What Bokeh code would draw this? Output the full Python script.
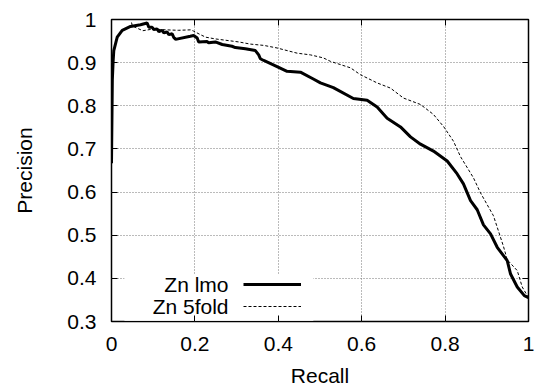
from bokeh.plotting import figure
from bokeh.models import (Range1d, FixedTicker, LinearAxis, Legend, LegendItem,
                          Label, BoxAnnotation, CustomJSTickFormatter)
from bokeh.embed import file_html
from bokeh.resources import INLINE

# ---- data ----
recall_lmo = [0, 0.002, 0.004, 0.0055, 0.0137, 0.0257, 0.0456, 0.0695, 0.0855, 0.0895,
              0.0975, 0.101, 0.1095, 0.1135, 0.1215, 0.1255, 0.1335, 0.1375, 0.1455, 0.149,
              0.1535, 0.189, 0.197, 0.2055, 0.209, 0.2295, 0.233, 0.249, 0.2655, 0.289,
              0.297, 0.321, 0.345, 0.353, 0.357, 0.365, 0.397, 0.421, 0.453, 0.484,
              0.501, 0.532, 0.58, 0.613, 0.637, 0.661, 0.693, 0.717, 0.741, 0.772,
              0.805, 0.829, 0.844, 0.861, 0.877, 0.892, 0.909, 0.925, 0.949, 0.957,
              0.973, 0.99, 1.0]
precision_lmo = [0.667, 0.86, 0.905, 0.928, 0.959, 0.975, 0.984, 0.988, 0.992, 0.982,
                 0.982, 0.977, 0.978, 0.972, 0.975, 0.969, 0.971, 0.965, 0.967, 0.959,
                 0.954, 0.961, 0.963, 0.957, 0.948, 0.949, 0.946, 0.948, 0.942, 0.938,
                 0.935, 0.932, 0.928, 0.918, 0.909, 0.905, 0.891, 0.88, 0.878, 0.862,
                 0.853, 0.842, 0.817, 0.813, 0.797, 0.771, 0.751, 0.728, 0.711, 0.695,
                 0.672, 0.642, 0.619, 0.58, 0.559, 0.524, 0.503, 0.472, 0.441, 0.41,
                 0.38, 0.36, 0.355]

recall_5fold = [0.048, 0.05, 0.075, 0.1, 0.13, 0.16, 0.19, 0.197, 0.213, 0.226,
                0.249, 0.273, 0.305, 0.333, 0.365, 0.397, 0.445, 0.477, 0.508, 0.525,
                0.573, 0.597, 0.637, 0.669, 0.7, 0.741, 0.772, 0.797, 0.82, 0.837,
                0.868, 0.885, 0.916, 0.94, 0.949, 0.973, 0.985, 1.0]
precision_5fold = [0.993, 0.985, 0.974, 0.978, 0.976, 0.975, 0.976, 0.973, 0.965, 0.959,
                   0.955, 0.952, 0.948, 0.943, 0.94, 0.934, 0.922, 0.918, 0.911, 0.903,
                   0.888, 0.872, 0.853, 0.841, 0.818, 0.803, 0.78, 0.751, 0.718, 0.682,
                   0.633, 0.598, 0.545, 0.474, 0.443, 0.418, 0.38, 0.355]

series_names = ["Zn lmo", "Zn 5fold"]
x_ticks = [0, 0.2, 0.4, 0.6, 0.8, 1.0]
x_tick_labels = ["0", "0.2", "0.4", "0.6", "0.8", "1"]
y_ticks = [0.3, 0.4, 0.5, 0.6, 0.7, 0.8, 0.9, 1.0]
y_tick_labels = ["0.3", "0.4", "0.5", "0.6", "0.7", "0.8", "0.9", "1"]

FONT = "Liberation Sans"
FS = "21px"

p = figure(width=536, height=389, output_backend="svg", toolbar_location=None,
           x_range=Range1d(0, 1), y_range=Range1d(0.3, 1),
           min_border_left=111, min_border_right=8, min_border_top=19,
           min_border_bottom=67, x_axis_label="Recall", y_axis_label="Precision")
p.background_fill_color = "white"
p.border_fill_color = "white"
p.outline_line_color = "black"
p.outline_line_width = 1.5

for ax, ticks, labels in ((p.xaxis[0], x_ticks, x_tick_labels), (p.yaxis[0], y_ticks, y_tick_labels)):
    ax.ticker = FixedTicker(ticks=ticks)
    ax.major_label_overrides = {t: l for t, l in zip(ticks, labels)}
    ax.major_tick_in = 6
    ax.major_tick_out = 0
    ax.minor_tick_line_color = None
    ax.axis_line_color = None
    ax.major_tick_line_color = "black"
    ax.major_label_text_font = FONT
    ax.major_label_text_font_size = FS
    ax.major_label_text_color = "black"
    ax.axis_label_text_font = FONT
    ax.axis_label_text_font_size = FS
    ax.axis_label_text_font_style = "normal"
    ax.axis_label_text_color = "black"

p.xaxis[0].major_label_standoff = 15
p.xaxis[0].axis_label_standoff = 10
p.yaxis[0].major_label_standoff = 15
p.yaxis[0].axis_label_standoff = 28

# mirrored inward ticks on top and right
blank = CustomJSTickFormatter(code="return ''")
for loc, ticks in (("right", y_ticks), ("above", x_ticks)):
    ax = LinearAxis(ticker=FixedTicker(ticks=ticks), formatter=blank,
                    major_tick_in=6, major_tick_out=0, minor_tick_line_color=None,
                    axis_line_color=None, major_label_standoff=0,
                    major_label_text_font_size="1px")
    p.add_layout(ax, loc)

p.xgrid.ticker = FixedTicker(ticks=x_ticks[1:-1])
p.ygrid.ticker = FixedTicker(ticks=y_ticks[1:-1])
p.grid.grid_line_color = "#777777"
p.grid.grid_line_dash = "1 2"
p.grid.grid_line_width = 1

# opaque key area (gnuplot key hides grid, but not the axis ticks)
key_bg = BoxAnnotation(left=0.031, right=0.484, bottom=0.302, top=0.409,
                       fill_color="white", fill_alpha=1, line_color=None, level="glyph")
p.add_layout(key_bg)

r_lmo = p.line(recall_lmo, precision_lmo, line_color="black", line_width=3)
r_5f = p.line(recall_5fold, precision_5fold, line_color="black", line_width=1,
              line_dash="3 2")

legend = Legend(items=[LegendItem(label="", renderers=[r_lmo]),
                       LegendItem(label="", renderers=[r_5f])],
                location=(132, 6), orientation="vertical",
                glyph_width=58, glyph_height=18, label_width=0, label_standoff=0,
                label_height=18, spacing=4, padding=0, margin=0,
                border_line_color=None, background_fill_alpha=0)
p.add_layout(legend)

for name, yv in zip(series_names, (0.3855, 0.3346)):
    p.add_layout(Label(x=0.2806, y=yv, text=name, text_align="right",
                       text_baseline="middle", text_font=FONT, text_font_size=FS,
                       text_color="black"))

open("out.html", "w").write(file_html(p, INLINE))
